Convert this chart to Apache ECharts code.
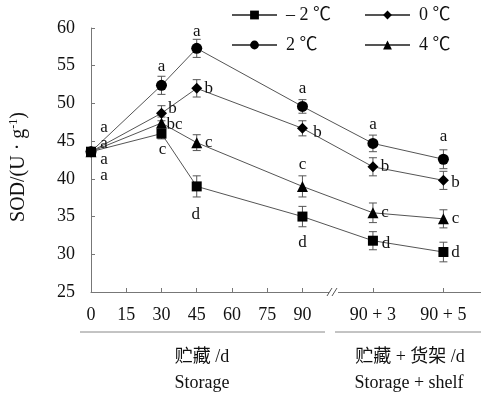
<!DOCTYPE html>
<html>
<head>
<meta charset="utf-8">
<script src="https://cdn.jsdelivr.net/npm/echarts@6/dist/echarts.min.js"></script>
<style>html,body{margin:0;padding:0;background:#fff}#c{width:481px;height:396px}</style>
</head>
<body>
<div id="c"></div>
<script>
// ---- data ----
const days = ['0', '30', '45', '90', '90 + 3', '90 + 5'];
const dayPos = [0, 30, 45, 90, 120, 150];
const xTickValues = [0, 15, 30, 45, 60, 75, 90, 120, 150];
const xTickLabels = ['0', '15', '30', '45', '60', '75', '90', '90 + 3', '90 + 5'];
const seriesNames = ['\u2013 2 \u2103', '0 \u2103', '2 \u2103', '4 \u2103'];
const sodM2 = [43.6, 46.0, 39.0, 35.0, 31.8, 30.3];
const sod0  = [43.6, 48.7, 52.0, 46.7, 41.6, 39.8];
const sod2  = [43.6, 52.4, 57.3, 49.6, 44.7, 42.6];
const sod4  = [43.6, 47.4, 44.8, 39.0, 35.5, 34.7];
const errM2 = [0.3, 0.7, 1.4, 1.35, 1.2, 1.3];
const err0  = [0.3, 1.0, 1.15, 1.0, 1.2, 1.2];
const err2  = [0.3, 1.2, 1.2, 0.9, 1.1, 1.25];
const err4  = [0.3, 0.8, 1.05, 1.4, 1.3, 1.2];
const letM2 = ['a', 'c', 'd', 'd', 'd', 'd'];
const let0  = ['a', 'b', 'b', 'b', 'b', 'b'];
const let2  = ['a', 'a', 'a', 'a', 'a', 'a'];
const let4  = ['a', 'bc', 'c', 'c', 'c', 'c'];

// ---- styles (label offsets per point) ----
const offM2 = [[13, 24], [1, 16], [-1, 28], [0, 26], [13, 3], [12, 1]];
const off0  = [[13, -8], [11, -5], [12, 0], [15, 4], [12, 0], [12, 2]];
const off2  = [[13, -24], [0, -19], [0, -17], [0, -18], [0, -19], [0, -23]];
const off4  = [[13, 8], [13, 1], [12, 0], [0, -22], [12, 0], [12, 0]];

const SERIF = '"Liberation Serif","Times New Roman","Noto Sans CJK SC",serif';
const groups = [
  {name: seriesNames[0], vals: sodM2, err: errM2, lets: letM2, off: offM2, symbol: 'rect', size: 10},
  {name: seriesNames[1], vals: sod0, err: err0, lets: let0, off: off0, symbol: 'diamond', size: 11},
  {name: seriesNames[2], vals: sod2, err: err2, lets: let2, off: off2, symbol: 'circle', size: 11},
  {name: seriesNames[3], vals: sod4, err: err4, lets: let4, off: off4, symbol: 'triangle', size: 11}
];

const series = [];
groups.forEach(g => {
  series.push({
    type: 'custom',
    silent: true,
    z: 1,
    data: g.vals.map((v, i) => [dayPos[i], v, g.err[i]]),
    renderItem: function (params, api) {
      const x = api.value(0), y = api.value(1), e = api.value(2);
      const t = api.coord([x, y + e]), b = api.coord([x, y - e]);
      const st = {stroke: '#555', lineWidth: 1};
      return {type: 'group', children: [
        {type: 'line', shape: {x1: t[0], y1: t[1], x2: b[0], y2: b[1]}, style: st},
        {type: 'line', shape: {x1: t[0] - 4, y1: t[1], x2: t[0] + 4, y2: t[1]}, style: st},
        {type: 'line', shape: {x1: b[0] - 4, y1: b[1], x2: b[0] + 4, y2: b[1]}, style: st}
      ]};
    }
  });
  series.push({
    type: 'line',
    name: g.name,
    z: 3,
    symbol: g.symbol,
    symbolSize: g.size,
    showAllSymbol: true,
    itemStyle: {color: '#000'},
    lineStyle: {color: '#555', width: 1},
    data: g.vals.map((v, i) => ({
      value: [dayPos[i], v],
      label: {
        show: true,
        position: 'inside',
        offset: g.off[i],
        formatter: g.lets[i],
        color: '#111',
        fontSize: 17,
        fontFamily: SERIF,
        align: 'center',
        verticalAlign: 'middle'
      }
    }))
  });
});

const chart = echarts.init(document.getElementById('c'), null, {renderer: 'canvas'});
chart.setOption({
  animation: false,
  backgroundColor: '#fff',
  grid: {left: 89, right: 0, top: 28, bottom: 104, containLabel: false},
  legend: {
    data: seriesNames,
    left: 231,
    top: 6,
    padding: 0,
    width: 260,
    itemWidth: 45,
    itemHeight: 11,
    itemGap: 12,
    textStyle: {fontFamily: SERIF, fontSize: 18, color: '#111', width: 66, lineHeight: 17, padding: [0, 0, 0, 4]}
  },
  xAxis: {
    type: 'value',
    min: 0,
    max: 166,
    axisLine: {show: true, lineStyle: {color: '#777', width: 1}},
    axisTick: {show: true, inside: true, length: 4, lineStyle: {color: '#777'}, customValues: xTickValues.slice(1)},
    axisLabel: {
      customValues: xTickValues,
      formatter: v => xTickLabels[xTickValues.indexOf(v)],
      fontFamily: SERIF, fontSize: 18, color: '#111', margin: 14
    },
    splitLine: {show: false}
  },
  yAxis: {
    type: 'value',
    min: 25,
    max: 60,
    interval: 5,
    name: 'SOD/(U · g{s|-1})',
    nameLocation: 'middle',
    nameGap: 61,
    nameRotate: 90,
    nameTextStyle: {fontFamily: SERIF, fontSize: 20, color: '#111', padding: [0, 14, 0, 0],
      rich: {s: {fontFamily: SERIF, fontSize: 12, verticalAlign: 'top', padding: [0, 0, 10, 0]}}},
    axisLine: {show: true, lineStyle: {color: '#777', width: 1}},
    axisTick: {show: true, inside: true, length: 4, lineStyle: {color: '#777'}},
    axisLabel: {fontFamily: SERIF, fontSize: 18, color: '#111', margin: 16},
    splitLine: {show: false}
  },
  series: series
});

// axis break mark and grouped x-axis captions
const bx = chart.convertToPixel({xAxisIndex: 0}, 103);
const by = chart.convertToPixel({yAxisIndex: 0}, 25);
chart.setOption({
  graphic: [
    {type: 'rect', shape: {x: bx - 4, y: by - 3, width: 9, height: 6}, style: {fill: '#fff'}, z: 50},
    {type: 'line', shape: {x1: bx - 6, y1: by + 4, x2: bx - 1, y2: by - 4}, style: {stroke: '#555', lineWidth: 1}, z: 51},
    {type: 'line', shape: {x1: bx - 1, y1: by + 4, x2: bx + 4, y2: by - 4}, style: {stroke: '#555', lineWidth: 1}, z: 51},
    {type: 'line', shape: {x1: 80, y1: 332, x2: 325, y2: 332}, style: {stroke: '#888', lineWidth: 1}},
    {type: 'line', shape: {x1: 335, y1: 332, x2: 481, y2: 332}, style: {stroke: '#888', lineWidth: 1}},
    {type: 'text', x: 202, y: 357, style: {text: '贮藏 /d', font: '18px ' + SERIF, fill: '#111', align: 'center', verticalAlign: 'middle'}},
    {type: 'text', x: 202, y: 383, style: {text: 'Storage', font: '18px ' + SERIF, fill: '#111', align: 'center', verticalAlign: 'middle'}},
    {type: 'text', x: 410, y: 357, style: {text: '贮藏 + 货架 /d', font: '18px ' + SERIF, fill: '#111', align: 'center', verticalAlign: 'middle'}},
    {type: 'text', x: 409, y: 383, style: {text: 'Storage + shelf', font: '18px ' + SERIF, fill: '#111', align: 'center', verticalAlign: 'middle'}}
  ]
});
</script>
</body>
</html>
